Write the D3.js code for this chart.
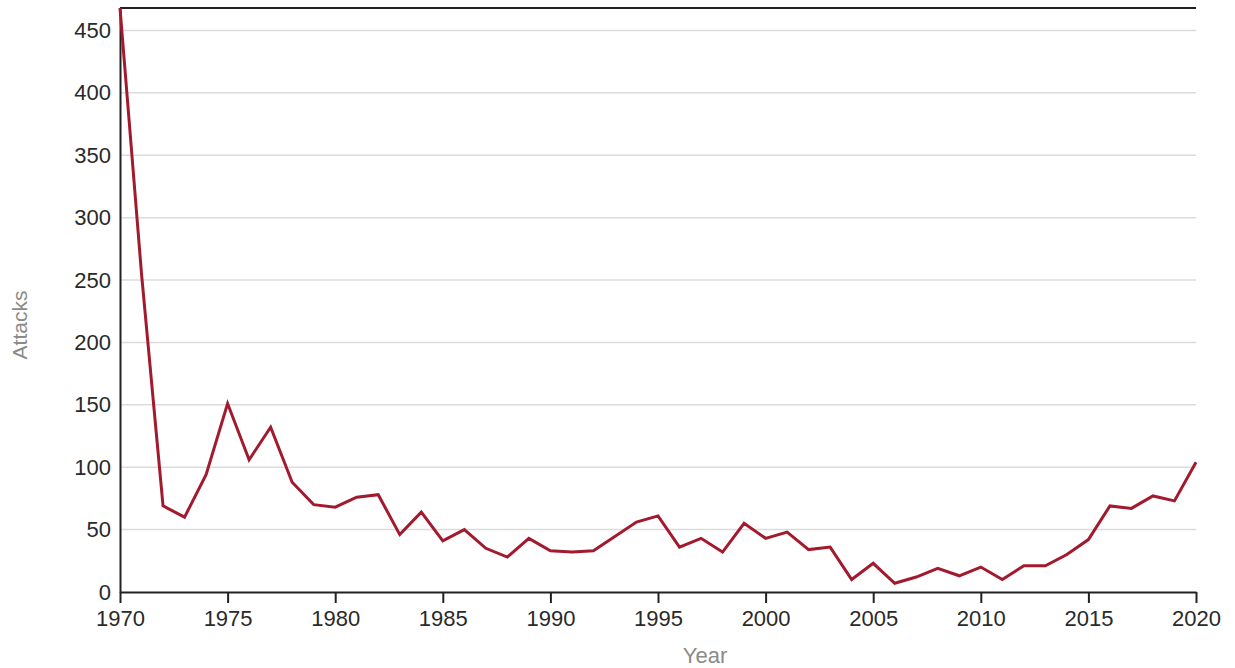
<!DOCTYPE html>
<html>
<head>
<meta charset="utf-8">
<script src="https://cdn.jsdelivr.net/npm/d3@7"></script>
<style>
  html, body { margin: 0; padding: 0; background: #fff; }
  svg text { font-family: "Liberation Sans", Arial, sans-serif; }
</style>
</head>
<body>
<svg id="chart" width="1235" height="668"></svg>
<script>
// Attacks per year (1993 has no record; the line joins 1992 to 1994)
const years   = [1970, 1971, 1972, 1973, 1974, 1975, 1976, 1977, 1978, 1979,
                 1980, 1981, 1982, 1983, 1984, 1985, 1986, 1987, 1988, 1989,
                 1990, 1991, 1992, 1994, 1995, 1996, 1997, 1998, 1999,
                 2000, 2001, 2002, 2003, 2004, 2005, 2006, 2007, 2008, 2009,
                 2010, 2011, 2012, 2013, 2014, 2015, 2016, 2017, 2018, 2019, 2020];
const attacks = [468, 255, 69, 60, 94, 151, 106, 132, 88, 70,
                 68, 76, 78, 46, 64, 41, 50, 35, 28, 43,
                 33, 32, 33, 56, 61, 36, 43, 32, 55,
                 43, 48, 34, 36, 10, 23, 7, 12, 19, 13,
                 20, 10, 21, 21, 30, 42, 69, 67, 77, 73, 104];
const xTicks = [1970, 1975, 1980, 1985, 1990, 1995, 2000, 2005, 2010, 2015, 2020];
const yTicks = [0, 50, 100, 150, 200, 250, 300, 350, 400, 450];

const data = years.map((y, i) => ({ year: y, value: attacks[i] }));

const svg = d3.select("#chart");
const margin = { left: 120, right: 39, top: 8, bottom: 76 };
const W = 1235, H = 668;

const x = d3.scaleLinear()
  .domain([1970, 2020])
  .range([margin.left, W - margin.right]);
const y = d3.scaleLinear()
  .domain([0, d3.max(attacks)])
  .range([H - margin.bottom, margin.top]);

// horizontal gridlines
svg.append("g")
  .selectAll("line")
  .data(yTicks.filter(t => t > 0))
  .join("line")
  .attr("x1", x.range()[0]).attr("x2", x.range()[1])
  .attr("y1", d => y(d)).attr("y2", d => y(d))
  .attr("stroke", "#dcdcdc")
  .attr("stroke-width", 1.5);

// top frame line
svg.append("line")
  .attr("x1", x.range()[0]).attr("x2", x.range()[1])
  .attr("y1", y.range()[1]).attr("y2", y.range()[1])
  .attr("stroke", "#222").attr("stroke-width", 2);

// x axis
const xAxis = svg.append("g")
  .attr("transform", `translate(0,${y(0)})`)
  .call(d3.axisBottom(x).tickValues(xTicks).tickFormat(d3.format("d")).tickSize(11).tickSizeOuter(0).tickPadding(7));
xAxis.select(".domain").attr("stroke", "#222").attr("stroke-width", 2);
xAxis.selectAll(".tick line").attr("stroke", "#222").attr("stroke-width", 2);
xAxis.selectAll("text").attr("font-size", 22).attr("fill", "#2a2a2a");

// y axis
const yAxis = svg.append("g")
  .attr("transform", `translate(${x.range()[0]},0)`)
  .call(d3.axisLeft(y).tickValues(yTicks).tickSize(0).tickPadding(9).tickSizeOuter(0));
yAxis.select(".domain").attr("stroke", "#222").attr("stroke-width", 2);
yAxis.selectAll("text").attr("font-size", 22).attr("fill", "#2a2a2a");

// series line
const line = d3.line()
  .x(d => x(d.year))
  .y(d => y(d.value));
svg.append("path")
  .datum(data)
  .attr("d", line)
  .attr("fill", "none")
  .attr("stroke", "#a21a2e")
  .attr("stroke-width", 3)
  .attr("stroke-linejoin", "miter");

// axis titles
svg.append("text")
  .attr("x", 705)
  .attr("y", 663)
  .attr("text-anchor", "middle")
  .attr("font-size", 22)
  .attr("fill", "#8a8a8a")
  .text("Year");

svg.append("text")
  .attr("transform", `translate(27,${(y.range()[0] + y.range()[1]) / 2 + 25}) rotate(-90)`)
  .attr("text-anchor", "middle")
  .attr("font-size", 21)
  .attr("fill", "#8a8a8a")
  .text("Attacks");
</script>
</body>
</html>
